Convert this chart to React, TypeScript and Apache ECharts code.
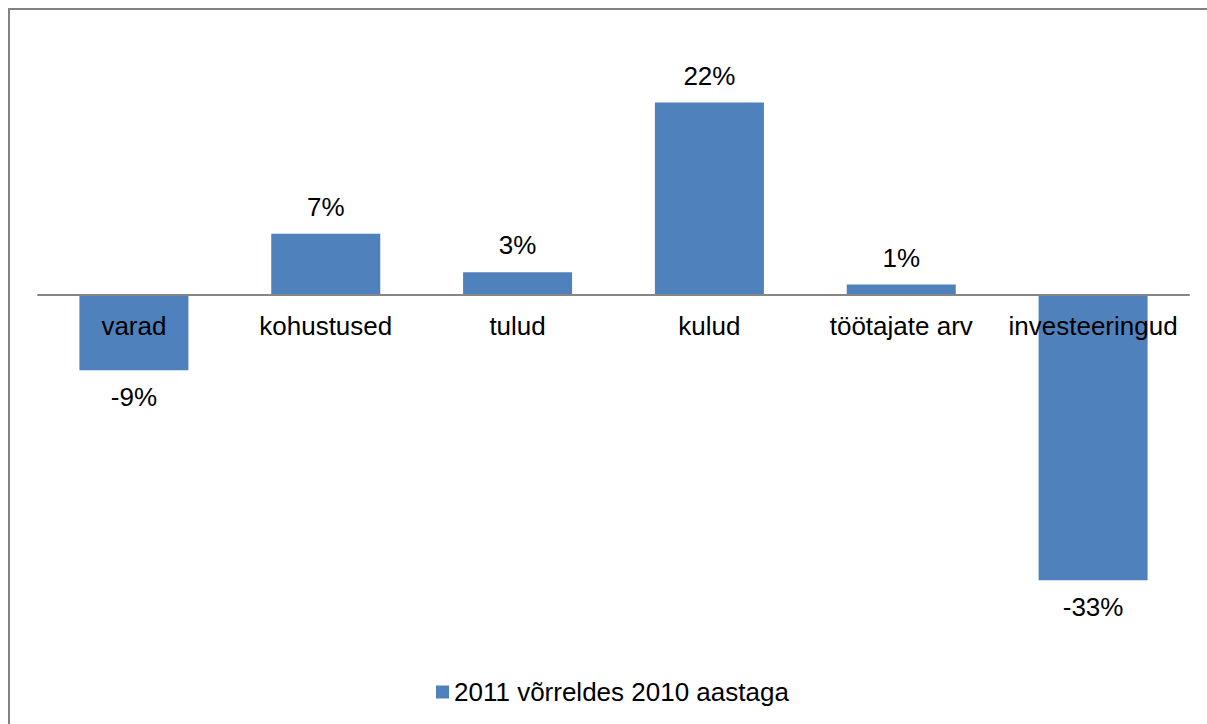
import React, { useEffect, useRef } from "react";
import * as echarts from "echarts";

const categories = ["varad", "kohustused", "tulud", "kulud", "töötajate arv", "investeeringud"];
const values = [-8.6, 7.0, 2.6, 22.0, 1.2, -32.6];
const seriesName = "2011 võrreldes 2010 aastaga";

const FONT = "'Liberation Sans', Arial, sans-serif";

export default function App() {
  const ref = useRef<HTMLDivElement>(null);
  useEffect(() => {
    if (!ref.current) return;
    const chart = echarts.init(ref.current, null, { renderer: "svg" });
    chart.setOption({
      animation: false,
      backgroundColor: "#ffffff",
      textStyle: { fontFamily: FONT },
      grid: { left: 28, width: 1151, top: 22.5, height: 612.5, containLabel: false },
      legend: {
        left: 421,
        top: 664,
        itemWidth: 13,
        itemHeight: 13,
        itemGap: 5,
        icon: "rect",
        textStyle: { fontSize: 26, color: "#000", fontFamily: FONT },
        data: [seriesName],
      },
      xAxis: {
        type: "category",
        data: categories,
        z: 10,
        offset: -350,
        axisLine: { show: true, onZero: false, lineStyle: { color: "#868686", width: 2 } },
        axisTick: { show: false },
        axisLabel: { fontSize: 26, color: "#000", margin: 18, fontFamily: FONT, interval: 0 },
      },
      yAxis: {
        type: "value",
        min: -40,
        max: 30,
        show: true,
        axisLine: { show: false },
        axisTick: { show: false },
        axisLabel: { show: false },
        splitLine: { show: false },
      },
      series: [
        {
          name: seriesName,
          type: "bar",
          barWidth: 109,
          itemStyle: { color: "#4f81bd" },
          data: values.map((v) => ({
            value: v,
            label: { position: v < 0 ? "bottom" : "top" },
          })),
          label: {
            show: true,
            fontSize: 26,
            color: "#000",
            fontFamily: FONT,
            distance: 14,
            formatter: (p: any) => Math.round(p.value) + "%",
          },
        },
      ],
    });
    return () => chart.dispose();
  }, []);
  return (
    <div
      style={{
        position: "fixed",
        left: 8,
        top: 8,
        borderTop: "2px solid #828282",
        borderLeft: "2px solid #828282",
        width: 1260,
        height: 740,
        background: "#fff",
      }}
    >
      <div ref={ref} style={{ width: 1260, height: 740 }} />
    </div>
  );
}
